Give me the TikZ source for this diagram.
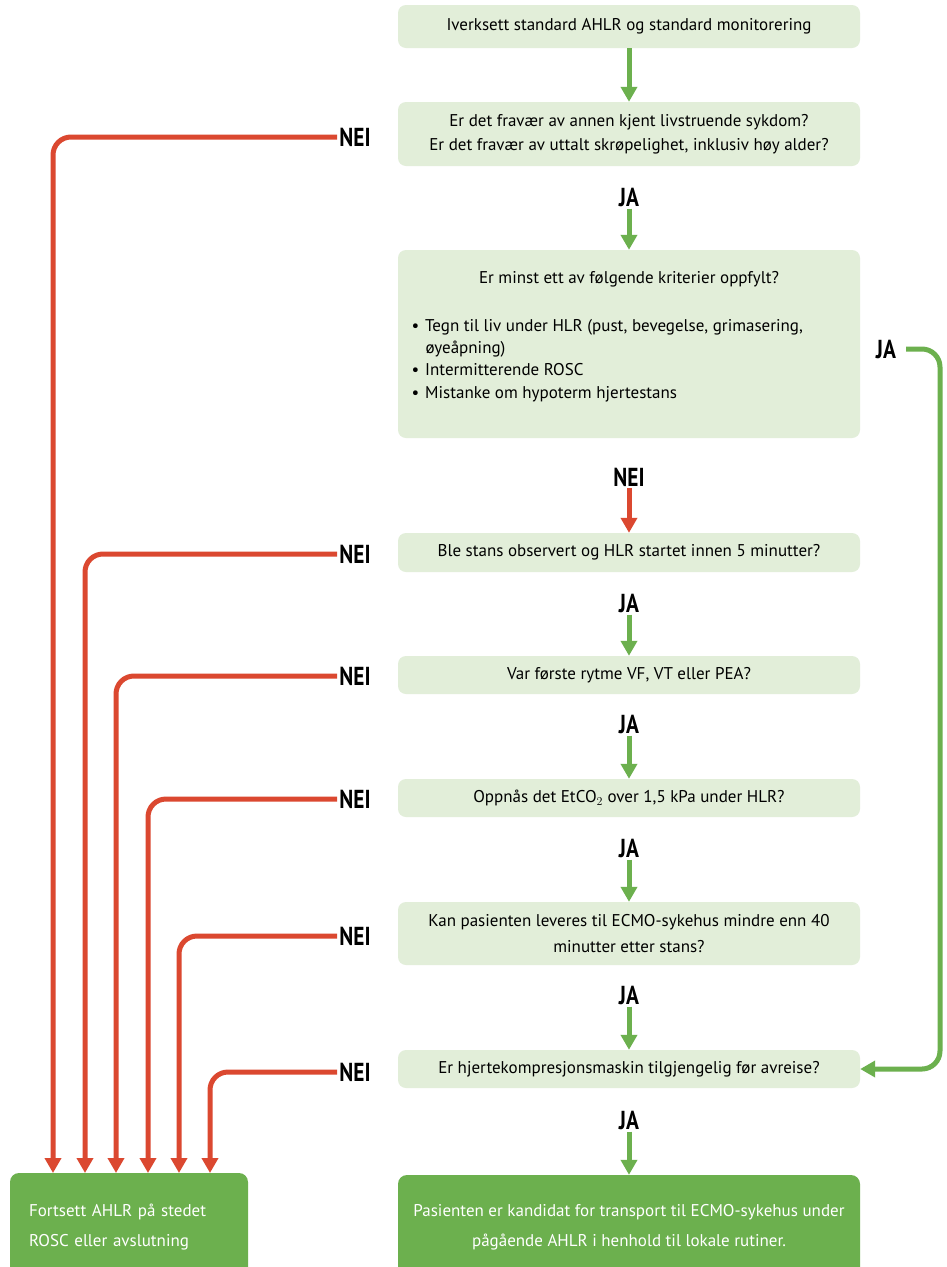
\documentclass[tikz,border=0pt]{standalone}
\usepackage{fontspec}
\setmainfont{PT Sans}
\newfontfamily\svarfont{PT Sans}[FakeStretch=0.82]
\usepackage{tikz}
\usetikzlibrary{shapes,positioning}
\usetikzlibrary{arrows.meta}
\definecolor{lysgronn}{HTML}{E2EED9}
\definecolor{morkgronn}{HTML}{6CB04E}
\definecolor{rod}{HTML}{DB4830}
\definecolor{pilgronn}{HTML}{6CB04E}
\tikzstyle{boks} = [rectangle, rounded corners=8pt, fill=lysgronn, minimum width=462pt,
text centered, align=center, font=\fontsize{17}{24}\selectfont]
\tikzstyle{sluttboks} = [rectangle, rounded corners=9pt, fill=morkgronn, text=white, font=\fontsize{17}{30}\selectfont]
\tikzstyle{svar} = [font=\svarfont\bfseries\fontsize{26}{26}\selectfont, inner sep=2pt]
\tikzstyle{japil} = [line width=5pt, draw=pilgronn, -{Triangle[width=16pt,length=15pt]}]
\tikzstyle{neipil} = [line width=5pt, draw=rod, rounded corners=18pt, -{Triangle[width=16pt,length=15pt]}]

\begin{document}
\begin{tikzpicture}[x=1pt,y=-1pt]
	\clip (0,0) rectangle (946,1267);
	\fill[white] (0,0) rectangle (946,1267);
	% spørsmål
	\node (b1) at (629,26.5) [boks, minimum height=43pt] {Iverksett standard AHLR og standard monitorering};
	\node (b2) at (629,134) [boks, minimum height=64pt] {Er det fravær av annen kjent livstruende sykdom?\\Er det fravær av uttalt skrøpelighet, inklusiv høy alder?};
	\node (b3) at (629,344) [boks, minimum height=188pt] {};
	\node (b3tittel) at (629,279) [font=\fontsize{17}{22}\selectfont] {Er minst ett av følgende kriterier oppfylt?};
	\node (b3liste) at (408,360.5) [anchor=west, align=left, font=\fontsize{17}{22.3}\selectfont]
		{\textbullet\hspace{6pt}Tegn til liv under HLR (pust, bevegelse, grimasering,\\
		 \hspace{14pt}øyeåpning)\\
		 \textbullet\hspace{6pt}Intermitterende ROSC\\
		 \textbullet\hspace{6pt}Mistanke om hypoterm hjertestans};
	\node (b4) at (629,552.5) [boks, minimum height=39pt] {Ble stans observert og HLR startet innen 5 minutter?};
	\node (b5) at (629,675) [boks, minimum height=38pt] {Var første rytme VF, VT eller PEA?};
	\node (b6) at (629,798) [boks, minimum height=38pt] {Oppnås det EtCO$_2$ over 1,5 kPa under HLR?};
	\node (b7) at (629,933.5) [boks, minimum height=63pt, font=\fontsize{17}{26}\selectfont] {Kan pasienten leveres til ECMO-sykehus mindre enn 40\\minutter etter stans?};
	\node (b8) at (629,1069) [boks, minimum height=38pt] {Er hjertekompresjonsmaskin tilgjengelig før avreise?};
	% utfall
	\node (ecmo) at (629,1227) [sluttboks, minimum width=462pt, minimum height=104pt, align=center]
		{Pasienten er kandidat for transport til ECMO-sykehus under\\pågående AHLR i henhold til lokale rutiner.};
	\node (venstre) at (129,1227) [sluttboks, minimum width=238pt, minimum height=108pt, text width=200pt, inner xsep=19pt, align=left]
		{Fortsett AHLR på stedet\\ROSC eller avslutning};
	% svar
	\node (ja2) at (629,197) [svar] {JA};
	\node (ja3) at (886,349) [svar] {JA};
	\node (nei3) at (629,477) [svar] {NEI};
	\node (ja4) at (629,603) [svar] {JA};
	\node (ja5) at (629,724) [svar] {JA};
	\node (ja6) at (629,848) [svar] {JA};
	\node (ja7) at (629,995) [svar] {JA};
	\node (ja8) at (629,1120) [svar] {JA};
	\node (nei2) at (355,137) [svar] {NEI};
	\node (nei4) at (355,554) [svar] {NEI};
	\node (nei5) at (355,676) [svar] {NEI};
	\node (nei6) at (355,799) [svar] {NEI};
	\node (nei7) at (355,936) [svar] {NEI};
	\node (nei8) at (355,1072) [svar] {NEI};
	\coordinate (inn2) at (53,1173);
	\coordinate (inn4) at (85,1173);
	\coordinate (inn5) at (116,1173);
	\coordinate (inn6) at (148,1173);
	\coordinate (inn7) at (179,1173);
	\coordinate (inn8) at (210,1173);
	\coordinate (sloyfe) at (940,0);
	% piler
	\draw[japil] (b1) -- (b2);
	\draw[japil] (ja2) -- (b3);
	\draw[neipil] (nei3) -- (b4);
	\draw[japil] (ja4) -- (b5);
	\draw[japil] (ja5) -- (b6);
	\draw[japil] (ja6) -- (b7);
	\draw[japil] (ja7) -- (b8);
	\draw[japil] (ja8) -- (ecmo);
	\draw[japil, rounded corners=18pt, shorten <=8pt] (ja3.east) -| (b8.east -| sloyfe) -- (b8.east);
	\draw[neipil] (nei2.west) -| (inn2);
	\draw[neipil] (nei4.west) -| (inn4);
	\draw[neipil] (nei5.west) -| (inn5);
	\draw[neipil] (nei6.west) -| (inn6);
	\draw[neipil] (nei7.west) -| (inn7);
	\draw[neipil] (nei8.west) -| (inn8);
\end{tikzpicture}
\end{document}
